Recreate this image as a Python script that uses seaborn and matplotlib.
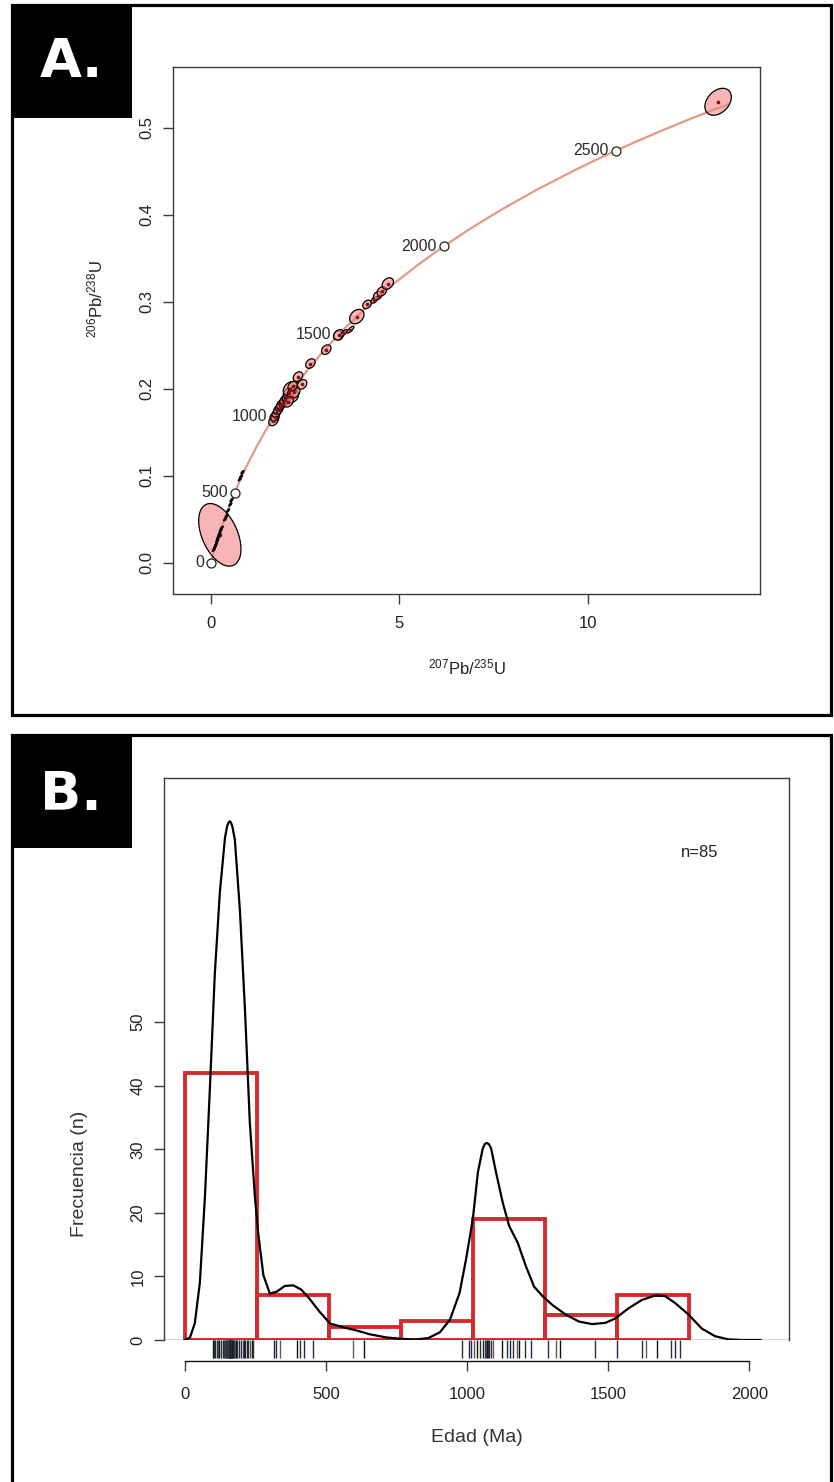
import numpy as np
import pandas as pd
import matplotlib
matplotlib.use("Agg")
import matplotlib.pyplot as plt
from matplotlib.patches import Rectangle
import seaborn as sns

# -------------------------------
# A. Concordia diagram data
# -------------------------------
conc_age = [0, 50, 100, 150, 200, 250, 300, 400, 500, 600, 700, 800, 900, 1000,
            1100, 1200, 1300, 1400, 1500, 1600, 1700, 1800, 1900, 2000, 2100, 2200,
            2300, 2400, 2450, 2500, 2550, 2600, 2650, 2700, 2730]
conc_x = [0.0, 0.0505, 0.1035, 0.1592, 0.2177, 0.2792, 0.3437, 0.4828, 0.6362,
          0.8056, 0.9925, 1.1987, 1.4264, 1.6774, 1.9546, 2.2602, 2.5976, 2.9703,
          3.3810, 3.8348, 4.3348, 4.8868, 5.4961, 6.1685, 6.9106, 7.7291, 8.6330,
          9.6296, 10.166, 10.7303, 11.322, 11.945, 12.597, 13.284, 13.712]
conc_y = [0.0, 0.00779, 0.01563, 0.02354, 0.03151, 0.03954, 0.04764, 0.06402,
          0.08065, 0.09754, 0.11470, 0.13213, 0.14983, 0.16781, 0.18607, 0.20459,
          0.22343, 0.24256, 0.26199, 0.28173, 0.30177, 0.32210, 0.34277, 0.36376,
          0.38511, 0.40673, 0.42878, 0.45108, 0.46242, 0.47376, 0.48523, 0.49678,
          0.50844, 0.52021, 0.52729]

mark_age = ["0", "500", "1000", "1500", "2000", "2500"]
mark_x = [0.0, 0.6362, 1.6774, 3.3810, 6.1685, 10.7303]
mark_y = [0.0, 0.08065, 0.16781, 0.26199, 0.36376, 0.47376]

# error ellipses (centre, half-widths, correlation)
ell_x = [0.24, 13.44, 1.66, 1.70, 1.74, 1.79, 1.83, 1.87, 1.92, 1.97, 2.02, 2.06,
         2.11, 2.16, 2.20, 2.17, 2.31, 2.42, 2.05, 2.64, 3.06, 3.39, 3.52, 3.70,
         3.87, 4.14, 4.33, 4.42, 4.53, 4.69]
ell_y = [0.032, 0.530, 0.163, 0.168, 0.172, 0.176, 0.179, 0.182, 0.184, 0.187,
         0.190, 0.195, 0.200, 0.191, 0.196, 0.203, 0.214, 0.205, 0.185, 0.229,
         0.245, 0.262, 0.264, 0.268, 0.283, 0.297, 0.302, 0.307, 0.312, 0.321]
ell_sx = [0.56, 0.35, 0.125, 0.112, 0.112, 0.125, 0.112, 0.125, 0.112, 0.138,
          0.125, 0.138, 0.19, 0.165, 0.165, 0.125, 0.125, 0.125, 0.138, 0.125,
          0.125, 0.138, 0.093, 0.093, 0.19, 0.112, 0.085, 0.112, 0.125, 0.15]
ell_sy = [0.036, 0.0155, 0.0055, 0.0049, 0.0049, 0.0055, 0.0049, 0.0055, 0.0049,
          0.0060, 0.0055, 0.0060, 0.0083, 0.0072, 0.0072, 0.0055, 0.0055, 0.0055,
          0.0060, 0.0055, 0.0055, 0.0060, 0.0040, 0.0040, 0.0083, 0.0049, 0.0037,
          0.0049, 0.0055, 0.0066]
ell_rho = [-0.45, 0.35, 0.3, 0.3, 0.3, 0.3, 0.3, 0.3, 0.3, 0.3, 0.3, 0.3, 0.3,
           0.3, 0.3, 0.3, 0.3, 0.3, 0.3, 0.3, 0.3, 0.3, 0.8, 0.8, 0.3, 0.3, 0.5,
           0.3, 0.3, 0.3]

# small (young) analyses drawn as black dots
dot_x = [0.08, 0.11, 0.14, 0.17, 0.19, 0.21, 0.23, 0.26, 0.29, 0.38, 0.42,
         0.46, 0.52, 0.55, 0.77, 0.80, 0.84]
dot_y = [0.015, 0.018, 0.021, 0.025, 0.028, 0.030, 0.033, 0.037, 0.040,
         0.050, 0.054, 0.060, 0.067, 0.072, 0.096, 0.099, 0.104]

# -------------------------------
# B. Age distribution data
# -------------------------------
ages = [98, 104, 108, 112, 116, 120, 128, 135, 140, 142, 145, 147, 149, 151, 153,
        155, 156, 158, 159, 160, 161, 162, 163, 165, 166, 168, 170, 172, 175, 178,
        182, 186, 193, 199, 205, 210, 214, 219, 224, 230, 236, 242,
        315, 321, 337, 396, 408, 423, 455,
        594, 635,
        980, 1007, 1015,
        1025, 1033, 1045, 1057, 1062, 1066, 1070, 1074, 1078, 1083, 1090, 1122,
        1140, 1152, 1163, 1175, 1184, 1204, 1225,
        1287, 1316, 1328, 1452,
        1532, 1621, 1633, 1671, 1721, 1735, 1753]
bin_edges = [0, 255, 510, 765, 1020, 1275, 1530, 1785]

kde_age = [0, 18, 35, 53, 71, 89, 106, 124, 142, 150, 155, 159, 163, 168, 177, 195,
           213, 230, 248, 260, 278, 301, 325, 354, 384, 413, 443, 478, 514, 561,
           608, 655, 714, 762, 815, 862, 903, 939, 973, 996, 1020, 1038, 1055,
           1062, 1069, 1077, 1085, 1102, 1126, 1149, 1179, 1208, 1237, 1267, 1302,
           1349, 1396, 1443, 1490, 1525, 1572, 1619, 1666, 1701, 1737, 1784, 1831,
           1878, 1925, 1975, 2040]
kde_n = [0, 0.4, 2.6, 9, 22.5, 40, 57.6, 70.5, 79, 80.9, 81.4, 81.6, 81.4, 80.8,
         78.7, 67.5, 51.8, 34.2, 22.5, 16.7, 10.2, 7.3, 7.6, 8.5, 8.6, 7.9, 6.4,
         4.4, 2.6, 2.0, 1.5, 0.9, 0.4, 0.2, 0.06, 0.3, 1.2, 3.2, 7.4, 12.7, 19,
         26.4, 30.1, 30.8, 31, 30.8, 30.1, 26.4, 21.6, 17.9, 15.3, 11.6, 8.4, 6.9,
         5.5, 4.0, 2.9, 2.5, 2.7, 3.4, 5.0, 6.3, 7.0, 6.9, 5.8, 4.0, 1.8, 0.6, 0.1,
         0, 0]

# -------------------------------
# Style
# -------------------------------
sns.set_theme(style="white")
plt.rcParams["font.family"] = ["Liberation Sans", "DejaVu Sans"]
plt.rcParams["mathtext.fontset"] = "custom"
plt.rcParams["mathtext.rm"] = "Liberation Sans"
plt.rcParams["mathtext.it"] = "Liberation Sans:italic"

W, H = 834, 1482
BOX = "#3a3a3a"
RED = "#D42B2F"
CURVE = "#E39A85"


def fig_rect(left, top, right, bottom):
    return [left / W, 1 - bottom / H, (right - left) / W, (bottom - top) / H]


fig = plt.figure(figsize=(W / 100, H / 100), dpi=100)

# outer frames and panel tags
for top, bottom, tag, ty in [(5, 715, "A.", 62), (735, 1500, "B.", 795)]:
    fig.add_artist(Rectangle((12 / W, 1 - bottom / H), (831 - 12) / W, (bottom - top) / H,
                             transform=fig.transFigure, fill=False, ec="black", lw=2.3))
    fig.add_artist(Rectangle((12 / W, 1 - (top + 113) / H), 120 / W, 113 / H,
                             transform=fig.transFigure, fc="black", ec="black", lw=0))
    fig.text(71 / W, 1 - ty / H, tag, color="white", fontsize=39, weight="bold",
             family="DejaVu Sans", ha="center", va="center")

# -------------------------------
# Panel A: concordia
# -------------------------------
axA = fig.add_axes(fig_rect(173, 67, 760, 594))
sns.lineplot(x=conc_x, y=conc_y, sort=False, estimator=None, color=CURVE, lw=1.6,
             ax=axA, zorder=1)
sns.scatterplot(x=mark_x, y=mark_y, s=42, facecolor="white", edgecolor="#222",
                linewidth=0.9, ax=axA, zorder=2)
for lab, mx, my in zip(mark_age, mark_x, mark_y):
    axA.annotate(lab, (mx, my), xytext=(-5, 0), textcoords="offset points",
                 ha="right", va="center", fontsize=11.5, color="#2b2b2b", zorder=5)

t = np.linspace(0, 2 * np.pi, 90)
for cx, cy, sx, sy, r in zip(ell_x, ell_y, ell_sx, ell_sy, ell_rho):
    ex = cx + sx * np.cos(t)
    ey = cy + sy * (r * np.cos(t) + np.sqrt(1 - r ** 2) * np.sin(t))
    axA.fill(ex, ey, fc=(0.95, 0.52, 0.52, 0.6), ec="black", lw=0.9, zorder=3)
    axA.plot(cx, cy, "o", ms=1.6, color="#8B1010", zorder=4)
for cx, cy in zip(dot_x, dot_y):
    ex = cx + 0.045 * np.cos(t)
    ey = cy + 0.0022 * (0.7 * np.cos(t) + 0.714 * np.sin(t))
    axA.fill(ex, ey, fc="black", ec="black", lw=0.6, zorder=4)

axA.set_xlim(-1.0, 14.55)
axA.set_ylim(-0.036, 0.57)
axA.set_xticks([0, 5, 10])
axA.set_yticks([0.0, 0.1, 0.2, 0.3, 0.4, 0.5])
axA.set_yticklabels(["0.0", "0.1", "0.2", "0.3", "0.4", "0.5"])
axA.set_xlabel(r"$\mathregular{^{207}Pb/^{235}U}$", fontsize=12, va="center", color="#222")
axA.set_ylabel(r"$\mathregular{^{206}Pb/^{238}U}$", fontsize=12, va="center", color="#222")
axA.xaxis.set_label_coords(0.5, -73 / 527)
axA.yaxis.set_label_coords(-78 / 587, 0.56)

# -------------------------------
# Panel B: histogram + density
# -------------------------------
axB = fig.add_axes(fig_rect(164, 778, 789, 1340))
sns.histplot(x=ages, bins=bin_edges, stat="count", element="bars", fill=False,
             color=RED, linewidth=2.8, ax=axB, zorder=2)
sns.lineplot(x=kde_age, y=kde_n, sort=False, estimator=None, color="black", lw=1.6,
             ax=axB, zorder=3)
rug_palette = {"g0": "#111111", "g1": "#1f3a24", "g2": "#1d2650", "g3": "#3e2247",
               "g4": "#5e5e50"}
rug_group = ["g%d" % (i % 5) for i in range(len(ages))]
sns.rugplot(x=ages, hue=rug_group, palette=rug_palette, height=-0.032, clip_on=False,
            lw=1.5, legend=False, expand_margins=False, ax=axB)
axB.axhline(0, color=BOX, lw=1.0, zorder=4)
axB.text(1825, 76.7, "n=85", ha="center", va="center", fontsize=12, color="#222")

axB.set_xlim(-74, 2140)
axB.set_ylim(0, 88.4)
axB.set_xticks([0, 500, 1000, 1500, 2000])
axB.set_yticks([0, 10, 20, 30, 40, 50])
axB.spines["bottom"].set_position(("outward", 15))
axB.spines["bottom"].set_bounds(0, 2000)
axB.set_xlabel("Edad (Ma)", fontsize=14, va="center", color="#333")
axB.set_ylabel("Frecuencia (n)", fontsize=14, va="center", color="#333")
axB.xaxis.set_label_coords(0.5, -97 / 562)
axB.yaxis.set_label_coords(-84 / 625, 0.295)

for ax in (axA, axB):
    for sp in ax.spines.values():
        sp.set_color(BOX)
        sp.set_linewidth(1.0)
    ax.tick_params(axis="both", direction="out", length=7.5, width=1.0, color=BOX,
                   labelsize=12, labelcolor="#222", bottom=True, left=True, pad=6)
    ax.tick_params(axis="y", labelrotation=90)
    plt.setp(ax.get_yticklabels(), va="center")
axA.tick_params(axis="x", pad=8)
axB.spines["bottom"].set_color("#111")
axB.tick_params(axis="x", pad=11)

fig.savefig("out.png", dpi=100)
